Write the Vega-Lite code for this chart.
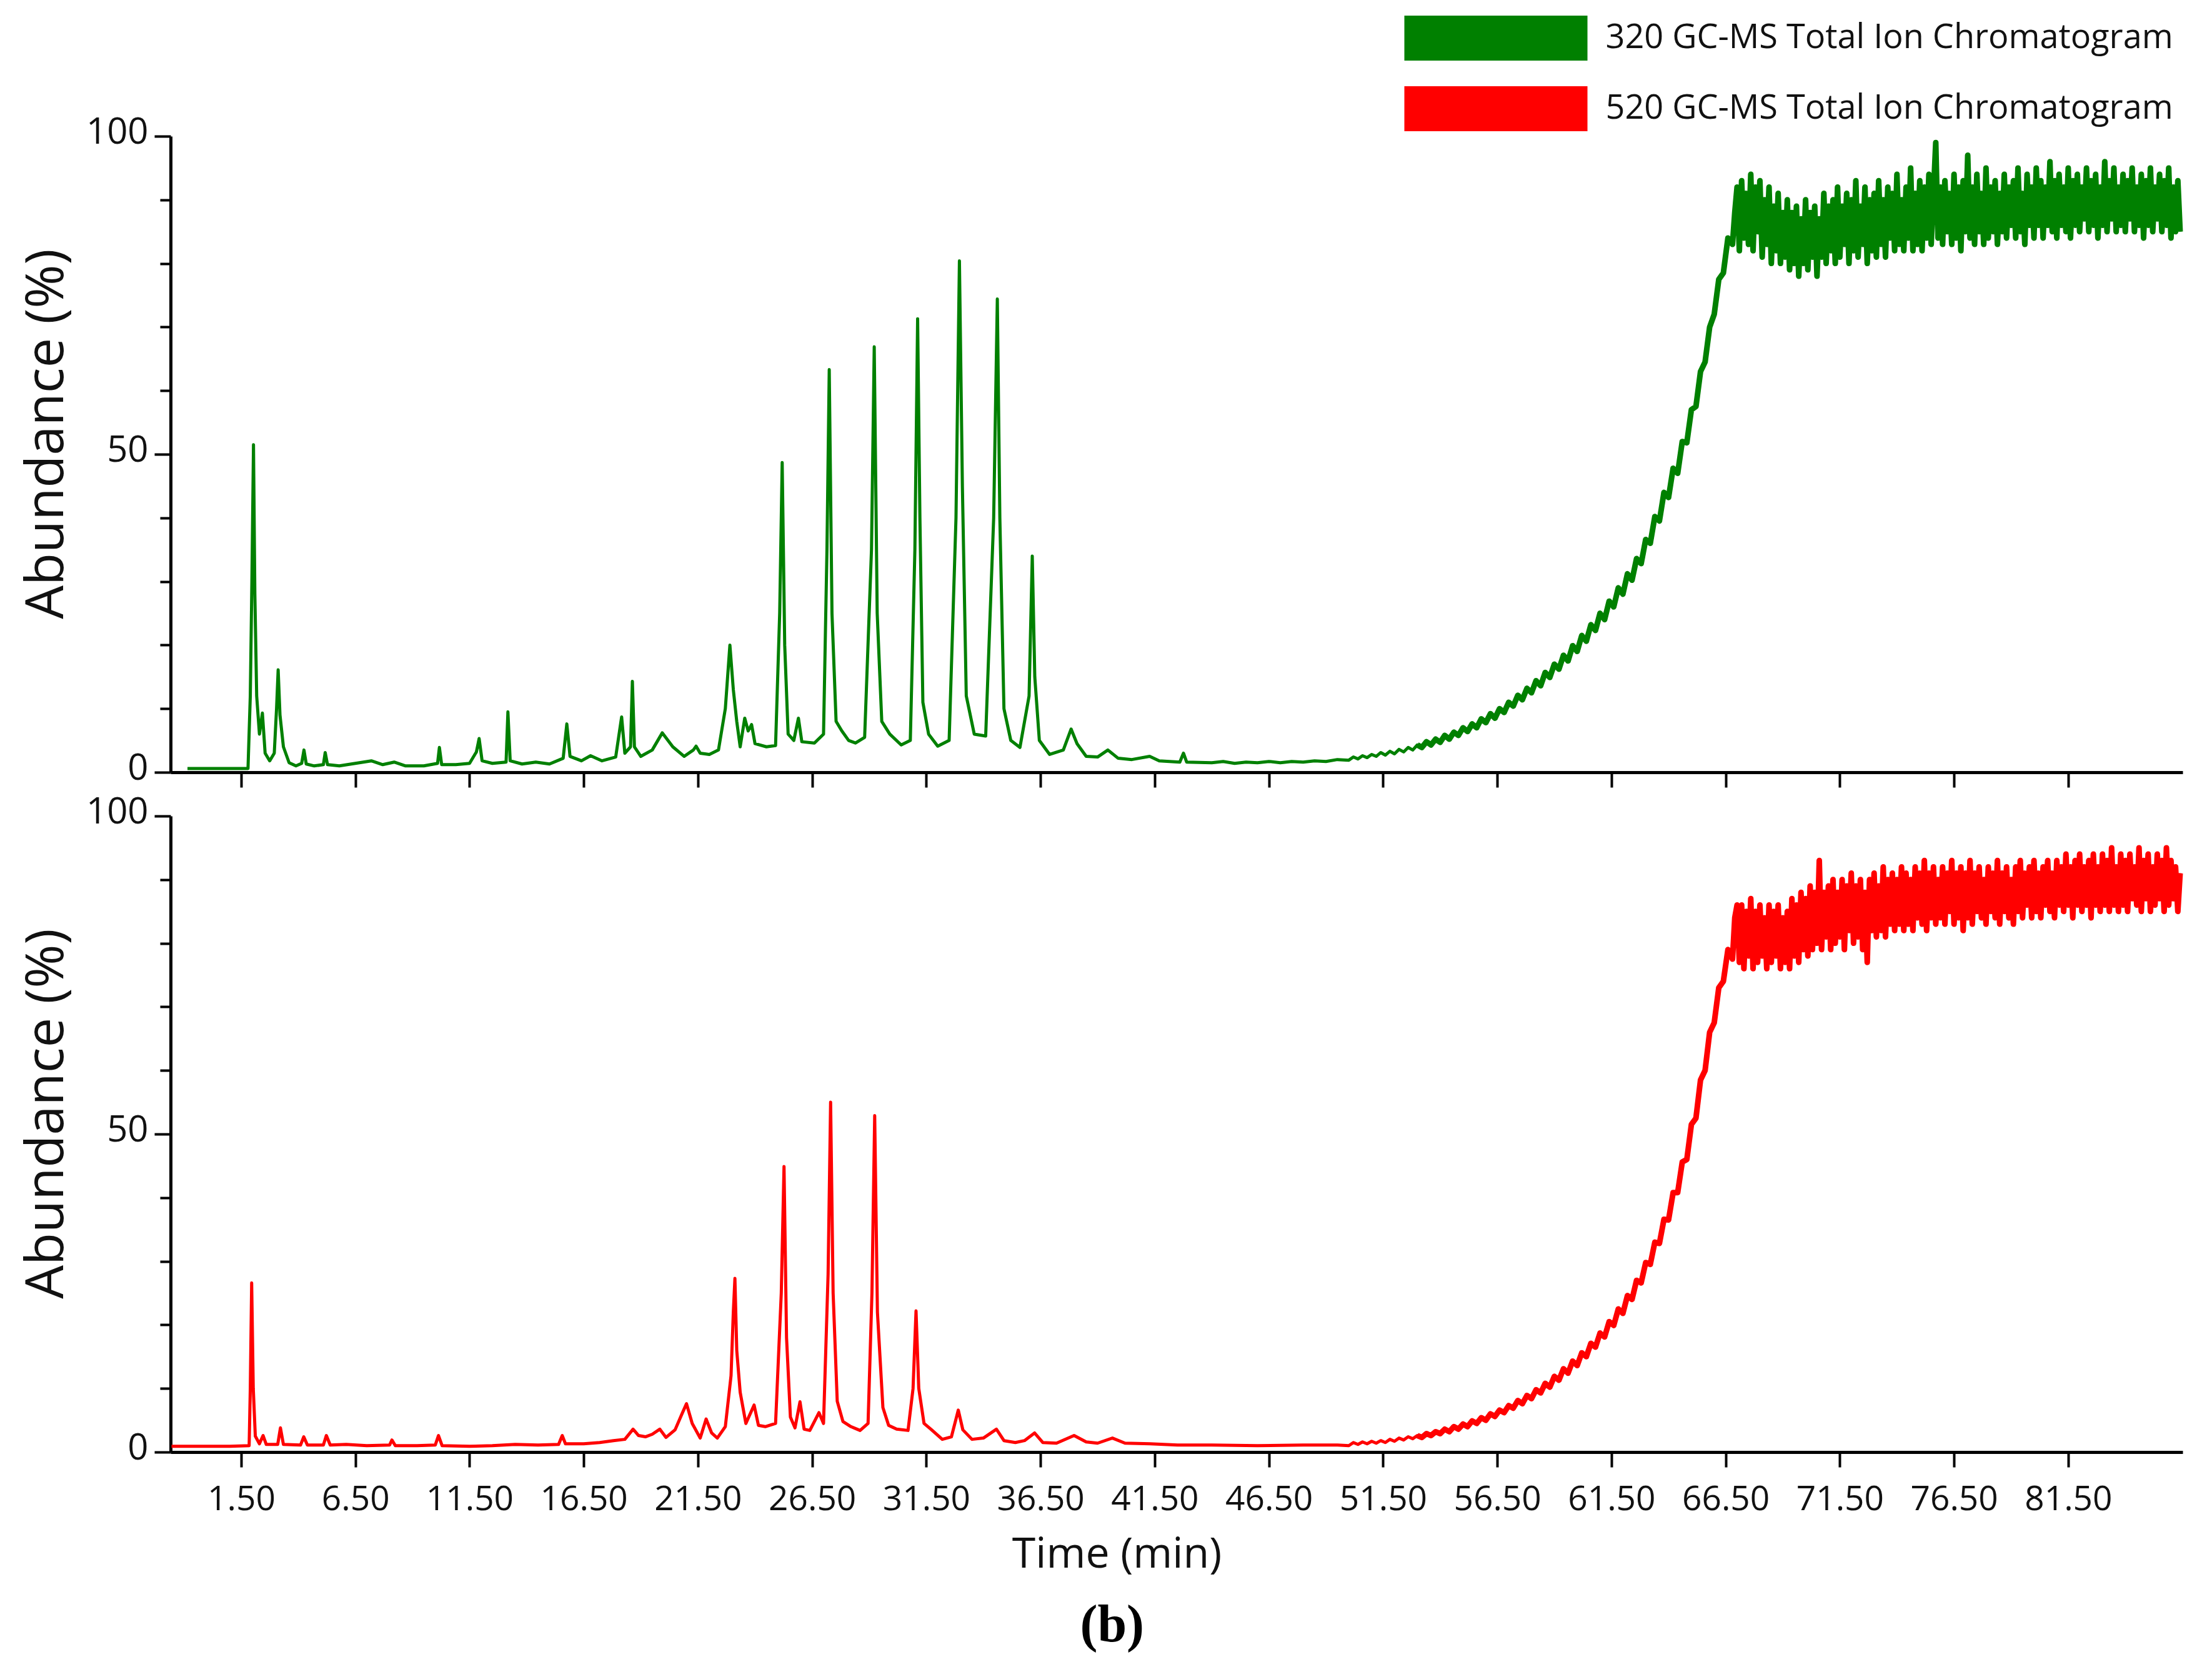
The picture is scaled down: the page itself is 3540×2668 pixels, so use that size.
{
  "$schema": "https://vega.github.io/schema/vega-lite/v6.json",
  "description": "320 vs 520 GC-MS total ion chromatograms, panel (b)",
  "autosize": {"type": "none"},
  "padding": {"left": 273, "top": 218, "right": 3267, "bottom": 2450},
  "background": "white",
  "bounds": "flush",
  "spacing": 70,
  "title": {
    "text": "(b)",
    "orient": "bottom",
    "anchor": "middle",
    "baseline": "alphabetic",
    "font": "Liberation Serif",
    "fontSize": 84,
    "fontWeight": "bold",
    "color": "#000",
    "dx": 17,
    "offset": 105
  },
  "datasets": {
    "g": [
      {"t": -0.85, "a": 0.6}, {"t": 0.5, "a": 0.6}, {"t": 1.8, "a": 0.6}, {"t": 1.9, "a": 12},
      {"t": 1.97, "a": 30}, {"t": 2.04, "a": 51.5}, {"t": 2.1, "a": 28}, {"t": 2.18, "a": 12},
      {"t": 2.3, "a": 6}, {"t": 2.43, "a": 9.3}, {"t": 2.55, "a": 3}, {"t": 2.75, "a": 1.8},
      {"t": 2.95, "a": 3}, {"t": 3.05, "a": 10}, {"t": 3.12, "a": 16.1}, {"t": 3.2, "a": 9},
      {"t": 3.35, "a": 4}, {"t": 3.6, "a": 1.5}, {"t": 3.9, "a": 1.0}, {"t": 4.15, "a": 1.4},
      {"t": 4.25, "a": 3.5}, {"t": 4.35, "a": 1.3}, {"t": 4.7, "a": 1.0}, {"t": 5.1, "a": 1.2},
      {"t": 5.18, "a": 3.1}, {"t": 5.28, "a": 1.2}, {"t": 5.8, "a": 1.0}, {"t": 6.5, "a": 1.4},
      {"t": 7.2, "a": 1.8}, {"t": 7.7, "a": 1.2}, {"t": 8.2, "a": 1.6}, {"t": 8.7, "a": 1.0},
      {"t": 9.5, "a": 1.0}, {"t": 10.1, "a": 1.4}, {"t": 10.18, "a": 3.9}, {"t": 10.28, "a": 1.2},
      {"t": 10.9, "a": 1.2}, {"t": 11.5, "a": 1.4}, {"t": 11.8, "a": 3.2}, {"t": 11.92, "a": 5.3},
      {"t": 12.05, "a": 1.8}, {"t": 12.5, "a": 1.4}, {"t": 13.1, "a": 1.6}, {"t": 13.18, "a": 9.5},
      {"t": 13.28, "a": 1.8}, {"t": 13.8, "a": 1.3}, {"t": 14.4, "a": 1.6}, {"t": 15.0, "a": 1.3},
      {"t": 15.6, "a": 2.2}, {"t": 15.76, "a": 7.6}, {"t": 15.9, "a": 2.5}, {"t": 16.4, "a": 1.8},
      {"t": 16.8, "a": 2.6}, {"t": 17.3, "a": 1.8}, {"t": 17.9, "a": 2.4}, {"t": 18.16, "a": 8.7},
      {"t": 18.3, "a": 3}, {"t": 18.55, "a": 4}, {"t": 18.63, "a": 14.3}, {"t": 18.72, "a": 4},
      {"t": 19.0, "a": 2.5}, {"t": 19.5, "a": 3.5}, {"t": 19.94, "a": 6.2}, {"t": 20.4, "a": 4},
      {"t": 20.9, "a": 2.5}, {"t": 21.3, "a": 3.5}, {"t": 21.42, "a": 4.1}, {"t": 21.6, "a": 3.0},
      {"t": 22.0, "a": 2.8}, {"t": 22.4, "a": 3.5}, {"t": 22.7, "a": 10}, {"t": 22.9, "a": 20},
      {"t": 23.05, "a": 13}, {"t": 23.2, "a": 8}, {"t": 23.35, "a": 4}, {"t": 23.55, "a": 8.5},
      {"t": 23.7, "a": 6.5}, {"t": 23.85, "a": 7.5}, {"t": 24.0, "a": 4.5}, {"t": 24.5, "a": 4.0},
      {"t": 24.9, "a": 4.2}, {"t": 25.08, "a": 25}, {"t": 25.19, "a": 48.7}, {"t": 25.3, "a": 20},
      {"t": 25.45, "a": 6}, {"t": 25.7, "a": 5}, {"t": 25.9, "a": 8.5}, {"t": 26.05, "a": 4.8},
      {"t": 26.6, "a": 4.6}, {"t": 27.0, "a": 6}, {"t": 27.15, "a": 35}, {"t": 27.25, "a": 63.3},
      {"t": 27.37, "a": 25}, {"t": 27.55, "a": 8}, {"t": 27.8, "a": 6.5}, {"t": 28.1, "a": 5},
      {"t": 28.4, "a": 4.6}, {"t": 28.8, "a": 5.5}, {"t": 29.1, "a": 35}, {"t": 29.22, "a": 66.9},
      {"t": 29.35, "a": 25}, {"t": 29.55, "a": 8}, {"t": 29.9, "a": 6}, {"t": 30.4, "a": 4.3},
      {"t": 30.8, "a": 5}, {"t": 31.0, "a": 35}, {"t": 31.12, "a": 71.3}, {"t": 31.22, "a": 40},
      {"t": 31.35, "a": 11}, {"t": 31.6, "a": 6}, {"t": 32.0, "a": 4.1}, {"t": 32.5, "a": 5},
      {"t": 32.8, "a": 40}, {"t": 32.95, "a": 80.4}, {"t": 33.08, "a": 45}, {"t": 33.25, "a": 12},
      {"t": 33.6, "a": 6}, {"t": 34.1, "a": 5.7}, {"t": 34.45, "a": 40}, {"t": 34.61, "a": 74.4},
      {"t": 34.72, "a": 40}, {"t": 34.9, "a": 10}, {"t": 35.2, "a": 5}, {"t": 35.6, "a": 3.9},
      {"t": 36.0, "a": 12}, {"t": 36.14, "a": 34}, {"t": 36.25, "a": 15}, {"t": 36.45, "a": 5},
      {"t": 36.9, "a": 2.8}, {"t": 37.5, "a": 3.5}, {"t": 37.84, "a": 6.8}, {"t": 38.1, "a": 4.5},
      {"t": 38.5, "a": 2.5}, {"t": 39.0, "a": 2.4}, {"t": 39.45, "a": 3.5}, {"t": 39.9, "a": 2.2},
      {"t": 40.5, "a": 2.0}, {"t": 41.28, "a": 2.5}, {"t": 41.7, "a": 1.8}, {"t": 42.6, "a": 1.6},
      {"t": 42.76, "a": 3}, {"t": 42.9, "a": 1.6}, {"t": 44.0, "a": 1.5}, {"t": 44.5, "a": 1.7},
      {"t": 45.0, "a": 1.4}, {"t": 45.5, "a": 1.6}, {"t": 46.0, "a": 1.5}, {"t": 46.5, "a": 1.7},
      {"t": 47.0, "a": 1.5}, {"t": 47.5, "a": 1.7}, {"t": 48.0, "a": 1.6}, {"t": 48.5, "a": 1.8},
      {"t": 49.0, "a": 1.7}, {"t": 49.5, "a": 2.0},
      {"t": 50.0, "a": 1.9}, {"t": 50.2, "a": 2.4}, {"t": 50.4, "a": 2.1}, {"t": 50.6, "a": 2.6},
      {"t": 50.8, "a": 2.3}, {"t": 51.0, "a": 2.8}, {"t": 51.2, "a": 2.5}, {"t": 51.4, "a": 3.1},
      {"t": 51.6, "a": 2.7}, {"t": 51.8, "a": 3.3}, {"t": 52.0, "a": 2.9}, {"t": 52.2, "a": 3.6},
      {"t": 52.4, "a": 3.2}, {"t": 52.6, "a": 3.9}, {"t": 52.8, "a": 3.5}, {"t": 53.0, "a": 4.3},
      {"t": 53.2, "a": 3.9}, {"t": 53.4, "a": 4.8}, {"t": 53.6, "a": 4.3}, {"t": 53.8, "a": 5.2},
      {"t": 54.0, "a": 4.7}, {"t": 54.2, "a": 5.8}, {"t": 54.4, "a": 5.2}, {"t": 54.6, "a": 6.3},
      {"t": 54.8, "a": 5.8}, {"t": 55.0, "a": 7.0}, {"t": 55.2, "a": 6.4}, {"t": 55.4, "a": 7.6},
      {"t": 55.6, "a": 7.0}, {"t": 55.8, "a": 8.4}, {"t": 56.0, "a": 7.8}, {"t": 56.2, "a": 9.2},
      {"t": 56.4, "a": 8.5}, {"t": 56.6, "a": 10.0}, {"t": 56.8, "a": 9.4}, {"t": 57.0, "a": 11.0},
      {"t": 57.2, "a": 10.4}, {"t": 57.4, "a": 12.1}, {"t": 57.6, "a": 11.4}, {"t": 57.8, "a": 13.2},
      {"t": 58.0, "a": 12.5}, {"t": 58.2, "a": 14.4}, {"t": 58.4, "a": 13.6}, {"t": 58.6, "a": 15.7},
      {"t": 58.8, "a": 14.9}, {"t": 59.0, "a": 17.0}, {"t": 59.2, "a": 16.2}, {"t": 59.4, "a": 18.4},
      {"t": 59.6, "a": 17.5}, {"t": 59.8, "a": 19.9}, {"t": 60.0, "a": 19.0}, {"t": 60.2, "a": 21.5},
      {"t": 60.4, "a": 20.6}, {"t": 60.6, "a": 23.2}, {"t": 60.8, "a": 22.3}, {"t": 61.0, "a": 25.0},
      {"t": 61.2, "a": 24.0}, {"t": 61.4, "a": 26.9}, {"t": 61.6, "a": 26.0}, {"t": 61.8, "a": 29.0},
      {"t": 62.0, "a": 28.0}, {"t": 62.2, "a": 31.2}, {"t": 62.4, "a": 30.2}, {"t": 62.6, "a": 33.6},
      {"t": 62.8, "a": 32.8}, {"t": 63.0, "a": 36.6}, {"t": 63.2, "a": 36.0}, {"t": 63.4, "a": 40.2},
      {"t": 63.6, "a": 39.5}, {"t": 63.8, "a": 44.0}, {"t": 64.0, "a": 43.2}, {"t": 64.2, "a": 47.8},
      {"t": 64.4, "a": 47.0}, {"t": 64.6, "a": 52.0}, {"t": 64.8, "a": 51.8}, {"t": 65.0, "a": 57.0},
      {"t": 65.2, "a": 57.5}, {"t": 65.4, "a": 63.0}, {"t": 65.6, "a": 64.5}, {"t": 65.8, "a": 70.0},
      {"t": 66.0, "a": 72.0}, {"t": 66.2, "a": 77.5}, {"t": 66.4, "a": 78.5}, {"t": 66.6, "a": 84.0},
      {"t": 66.8, "a": 83.0}, {"t": 66.9, "a": 88},
      {"t": 67.0, "a": 92}, {"t": 67.1, "a": 82}, {"t": 67.2, "a": 93}, {"t": 67.3, "a": 84},
      {"t": 67.4, "a": 91}, {"t": 67.5, "a": 83}, {"t": 67.6, "a": 94}, {"t": 67.7, "a": 82},
      {"t": 67.8, "a": 92}, {"t": 67.9, "a": 85}, {"t": 68.0, "a": 93}, {"t": 68.1, "a": 81},
      {"t": 68.2, "a": 90}, {"t": 68.3, "a": 83}, {"t": 68.4, "a": 92}, {"t": 68.5, "a": 80},
      {"t": 68.6, "a": 89}, {"t": 68.7, "a": 82}, {"t": 68.8, "a": 91}, {"t": 68.9, "a": 80},
      {"t": 69.0, "a": 88}, {"t": 69.1, "a": 81}, {"t": 69.2, "a": 90}, {"t": 69.3, "a": 79},
      {"t": 69.4, "a": 88}, {"t": 69.5, "a": 80}, {"t": 69.6, "a": 89}, {"t": 69.7, "a": 78},
      {"t": 69.8, "a": 87}, {"t": 69.9, "a": 80}, {"t": 70.0, "a": 90}, {"t": 70.1, "a": 79},
      {"t": 70.2, "a": 88}, {"t": 70.3, "a": 81}, {"t": 70.4, "a": 89}, {"t": 70.5, "a": 78},
      {"t": 70.6, "a": 87}, {"t": 70.7, "a": 81}, {"t": 70.8, "a": 91}, {"t": 70.9, "a": 80},
      {"t": 71.0, "a": 89}, {"t": 71.1, "a": 82}, {"t": 71.2, "a": 90}, {"t": 71.3, "a": 80},
      {"t": 71.4, "a": 92}, {"t": 71.5, "a": 81}, {"t": 71.6, "a": 89}, {"t": 71.7, "a": 83},
      {"t": 71.8, "a": 91}, {"t": 71.9, "a": 80}, {"t": 72.0, "a": 90}, {"t": 72.1, "a": 82},
      {"t": 72.2, "a": 93}, {"t": 72.3, "a": 81}, {"t": 72.4, "a": 89}, {"t": 72.5, "a": 83},
      {"t": 72.6, "a": 92}, {"t": 72.7, "a": 80}, {"t": 72.8, "a": 90}, {"t": 72.9, "a": 82},
      {"t": 73.0, "a": 91}, {"t": 73.1, "a": 81}, {"t": 73.2, "a": 93}, {"t": 73.3, "a": 83},
      {"t": 73.4, "a": 90}, {"t": 73.5, "a": 81}, {"t": 73.6, "a": 92}, {"t": 73.7, "a": 84},
      {"t": 73.8, "a": 91}, {"t": 73.9, "a": 82}, {"t": 74.0, "a": 94}, {"t": 74.1, "a": 83},
      {"t": 74.2, "a": 90}, {"t": 74.3, "a": 82}, {"t": 74.4, "a": 92}, {"t": 74.5, "a": 84},
      {"t": 74.6, "a": 95}, {"t": 74.7, "a": 82}, {"t": 74.8, "a": 91}, {"t": 74.9, "a": 83},
      {"t": 75.0, "a": 93}, {"t": 75.1, "a": 82}, {"t": 75.2, "a": 92}, {"t": 75.3, "a": 84},
      {"t": 75.4, "a": 94}, {"t": 75.5, "a": 83}, {"t": 75.6, "a": 91}, {"t": 75.7, "a": 99},
      {"t": 75.8, "a": 84}, {"t": 75.9, "a": 92}, {"t": 76.0, "a": 83}, {"t": 76.1, "a": 93},
      {"t": 76.2, "a": 85}, {"t": 76.3, "a": 91}, {"t": 76.4, "a": 83}, {"t": 76.5, "a": 94},
      {"t": 76.6, "a": 84}, {"t": 76.7, "a": 92}, {"t": 76.8, "a": 82}, {"t": 76.9, "a": 93},
      {"t": 77.0, "a": 85}, {"t": 77.1, "a": 97}, {"t": 77.2, "a": 84}, {"t": 77.3, "a": 92},
      {"t": 77.4, "a": 83}, {"t": 77.5, "a": 94}, {"t": 77.6, "a": 85}, {"t": 77.7, "a": 91},
      {"t": 77.8, "a": 83}, {"t": 77.9, "a": 95}, {"t": 78.0, "a": 84}, {"t": 78.1, "a": 92},
      {"t": 78.2, "a": 85}, {"t": 78.3, "a": 93}, {"t": 78.4, "a": 83}, {"t": 78.5, "a": 91},
      {"t": 78.6, "a": 85}, {"t": 78.7, "a": 94}, {"t": 78.8, "a": 84}, {"t": 78.9, "a": 92},
      {"t": 79.0, "a": 86}, {"t": 79.1, "a": 93}, {"t": 79.2, "a": 84}, {"t": 79.3, "a": 95},
      {"t": 79.4, "a": 85}, {"t": 79.5, "a": 91}, {"t": 79.6, "a": 83}, {"t": 79.7, "a": 94},
      {"t": 79.8, "a": 86}, {"t": 79.9, "a": 92}, {"t": 80.0, "a": 84}, {"t": 80.1, "a": 95},
      {"t": 80.2, "a": 86}, {"t": 80.3, "a": 93}, {"t": 80.4, "a": 84}, {"t": 80.5, "a": 92},
      {"t": 80.6, "a": 86}, {"t": 80.7, "a": 96}, {"t": 80.8, "a": 85}, {"t": 80.9, "a": 93},
      {"t": 81.0, "a": 84}, {"t": 81.1, "a": 94}, {"t": 81.2, "a": 86}, {"t": 81.3, "a": 92},
      {"t": 81.4, "a": 85}, {"t": 81.5, "a": 95}, {"t": 81.6, "a": 84}, {"t": 81.7, "a": 93},
      {"t": 81.8, "a": 86}, {"t": 81.9, "a": 94}, {"t": 82.0, "a": 85}, {"t": 82.1, "a": 92},
      {"t": 82.2, "a": 87}, {"t": 82.3, "a": 95}, {"t": 82.4, "a": 85}, {"t": 82.5, "a": 93},
      {"t": 82.6, "a": 86}, {"t": 82.7, "a": 94}, {"t": 82.8, "a": 84}, {"t": 82.9, "a": 92},
      {"t": 83.0, "a": 86}, {"t": 83.1, "a": 96}, {"t": 83.2, "a": 85}, {"t": 83.3, "a": 93},
      {"t": 83.4, "a": 87}, {"t": 83.5, "a": 95}, {"t": 83.6, "a": 85}, {"t": 83.7, "a": 92},
      {"t": 83.8, "a": 86}, {"t": 83.9, "a": 94}, {"t": 84.0, "a": 85}, {"t": 84.1, "a": 93},
      {"t": 84.2, "a": 87}, {"t": 84.3, "a": 95}, {"t": 84.4, "a": 85}, {"t": 84.5, "a": 92},
      {"t": 84.6, "a": 86}, {"t": 84.7, "a": 94}, {"t": 84.8, "a": 84}, {"t": 84.9, "a": 93},
      {"t": 85.0, "a": 86}, {"t": 85.1, "a": 95}, {"t": 85.2, "a": 85}, {"t": 85.3, "a": 92},
      {"t": 85.4, "a": 87}, {"t": 85.5, "a": 94}, {"t": 85.6, "a": 85}, {"t": 85.7, "a": 93},
      {"t": 85.8, "a": 86}, {"t": 85.9, "a": 95}, {"t": 86.0, "a": 84}, {"t": 86.1, "a": 92},
      {"t": 86.2, "a": 85}, {"t": 86.3, "a": 93}, {"t": 86.4, "a": 85}
    ],
    "r": [
      {"t": -1.55, "a": 0.9}, {"t": 0.0, "a": 0.9}, {"t": 1.0, "a": 0.9}, {"t": 1.85, "a": 1.0},
      {"t": 1.9, "a": 10}, {"t": 1.96, "a": 26.6}, {"t": 2.03, "a": 10}, {"t": 2.12, "a": 2.5},
      {"t": 2.3, "a": 1.3}, {"t": 2.46, "a": 2.6}, {"t": 2.6, "a": 1.2}, {"t": 3.1, "a": 1.2},
      {"t": 3.22, "a": 3.8}, {"t": 3.35, "a": 1.2}, {"t": 4.1, "a": 1.1}, {"t": 4.24, "a": 2.4},
      {"t": 4.4, "a": 1.1}, {"t": 5.1, "a": 1.1}, {"t": 5.23, "a": 2.6}, {"t": 5.4, "a": 1.1},
      {"t": 6.1, "a": 1.2}, {"t": 7.0, "a": 1.0}, {"t": 8.0, "a": 1.1}, {"t": 8.1, "a": 1.9},
      {"t": 8.25, "a": 1.0}, {"t": 9.2, "a": 1.0}, {"t": 10.0, "a": 1.1}, {"t": 10.14, "a": 2.6},
      {"t": 10.3, "a": 1.0}, {"t": 11.5, "a": 0.9}, {"t": 12.5, "a": 1.0}, {"t": 13.5, "a": 1.2},
      {"t": 14.5, "a": 1.1}, {"t": 15.4, "a": 1.2}, {"t": 15.56, "a": 2.6}, {"t": 15.7, "a": 1.3},
      {"t": 16.5, "a": 1.3}, {"t": 17.2, "a": 1.5}, {"t": 17.8, "a": 1.8}, {"t": 18.3, "a": 2.0},
      {"t": 18.66, "a": 3.6}, {"t": 18.9, "a": 2.6}, {"t": 19.2, "a": 2.4}, {"t": 19.5, "a": 2.8},
      {"t": 19.83, "a": 3.6}, {"t": 20.1, "a": 2.3}, {"t": 20.5, "a": 3.5}, {"t": 20.8, "a": 6.0},
      {"t": 21.0, "a": 7.6}, {"t": 21.25, "a": 4.5}, {"t": 21.6, "a": 2.2}, {"t": 21.86, "a": 5.2},
      {"t": 22.1, "a": 3.0}, {"t": 22.35, "a": 2.2}, {"t": 22.7, "a": 4.0}, {"t": 22.95, "a": 12},
      {"t": 23.05, "a": 22}, {"t": 23.12, "a": 27.3}, {"t": 23.2, "a": 16}, {"t": 23.35, "a": 9.4},
      {"t": 23.6, "a": 4.5}, {"t": 23.96, "a": 7.4}, {"t": 24.15, "a": 4.2}, {"t": 24.45, "a": 4.0},
      {"t": 24.9, "a": 4.5}, {"t": 25.15, "a": 25}, {"t": 25.27, "a": 44.9}, {"t": 25.38, "a": 18},
      {"t": 25.55, "a": 5.5}, {"t": 25.75, "a": 3.8}, {"t": 25.97, "a": 7.9}, {"t": 26.15, "a": 3.6},
      {"t": 26.4, "a": 3.4}, {"t": 26.8, "a": 6.2}, {"t": 27.0, "a": 4.5}, {"t": 27.2, "a": 28},
      {"t": 27.31, "a": 55}, {"t": 27.42, "a": 25}, {"t": 27.6, "a": 8}, {"t": 27.85, "a": 4.8},
      {"t": 28.2, "a": 4.0}, {"t": 28.6, "a": 3.4}, {"t": 28.95, "a": 4.5}, {"t": 29.12, "a": 25},
      {"t": 29.24, "a": 52.9}, {"t": 29.36, "a": 22}, {"t": 29.6, "a": 7.0}, {"t": 29.85, "a": 4.2},
      {"t": 30.2, "a": 3.6}, {"t": 30.7, "a": 3.4}, {"t": 30.92, "a": 10}, {"t": 31.05, "a": 22.2},
      {"t": 31.17, "a": 10}, {"t": 31.4, "a": 4.5}, {"t": 31.7, "a": 3.6}, {"t": 32.2, "a": 2.0},
      {"t": 32.6, "a": 2.4}, {"t": 32.9, "a": 6.6}, {"t": 33.1, "a": 3.5}, {"t": 33.5, "a": 2.0},
      {"t": 34.0, "a": 2.2}, {"t": 34.57, "a": 3.6}, {"t": 34.9, "a": 1.8}, {"t": 35.4, "a": 1.5},
      {"t": 35.8, "a": 1.8}, {"t": 36.24, "a": 3.0}, {"t": 36.6, "a": 1.5}, {"t": 37.2, "a": 1.4},
      {"t": 37.97, "a": 2.6}, {"t": 38.5, "a": 1.6}, {"t": 39.0, "a": 1.4}, {"t": 39.65, "a": 2.2},
      {"t": 40.2, "a": 1.4}, {"t": 41.3, "a": 1.3}, {"t": 42.5, "a": 1.1}, {"t": 44.0, "a": 1.1},
      {"t": 46.0, "a": 1.0}, {"t": 48.0, "a": 1.1}, {"t": 49.5, "a": 1.1},
      {"t": 50.0, "a": 1.0}, {"t": 50.2, "a": 1.5}, {"t": 50.4, "a": 1.2}, {"t": 50.6, "a": 1.6},
      {"t": 50.8, "a": 1.3}, {"t": 51.0, "a": 1.7}, {"t": 51.2, "a": 1.4}, {"t": 51.4, "a": 1.8},
      {"t": 51.6, "a": 1.5}, {"t": 51.8, "a": 2.0}, {"t": 52.0, "a": 1.7}, {"t": 52.2, "a": 2.2},
      {"t": 52.4, "a": 1.9}, {"t": 52.6, "a": 2.4}, {"t": 52.8, "a": 2.1}, {"t": 53.0, "a": 2.6},
      {"t": 53.2, "a": 2.3}, {"t": 53.4, "a": 2.9}, {"t": 53.6, "a": 2.6}, {"t": 53.8, "a": 3.2},
      {"t": 54.0, "a": 2.9}, {"t": 54.2, "a": 3.6}, {"t": 54.4, "a": 3.2}, {"t": 54.6, "a": 4.0},
      {"t": 54.8, "a": 3.6}, {"t": 55.0, "a": 4.4}, {"t": 55.2, "a": 4.0}, {"t": 55.4, "a": 4.9},
      {"t": 55.6, "a": 4.5}, {"t": 55.8, "a": 5.4}, {"t": 56.0, "a": 5.0}, {"t": 56.2, "a": 6.0},
      {"t": 56.4, "a": 5.6}, {"t": 56.6, "a": 6.6}, {"t": 56.8, "a": 6.2}, {"t": 57.0, "a": 7.3},
      {"t": 57.2, "a": 6.9}, {"t": 57.4, "a": 8.1}, {"t": 57.6, "a": 7.6}, {"t": 57.8, "a": 8.9},
      {"t": 58.0, "a": 8.4}, {"t": 58.2, "a": 9.8}, {"t": 58.4, "a": 9.3}, {"t": 58.6, "a": 10.8},
      {"t": 58.8, "a": 10.2}, {"t": 59.0, "a": 11.9}, {"t": 59.2, "a": 11.3}, {"t": 59.4, "a": 13.1},
      {"t": 59.6, "a": 12.4}, {"t": 59.8, "a": 14.3}, {"t": 60.0, "a": 13.6}, {"t": 60.2, "a": 15.6},
      {"t": 60.4, "a": 15.0}, {"t": 60.6, "a": 17.1}, {"t": 60.8, "a": 16.5}, {"t": 61.0, "a": 18.7},
      {"t": 61.2, "a": 18.1}, {"t": 61.4, "a": 20.5}, {"t": 61.6, "a": 19.9}, {"t": 61.8, "a": 22.5},
      {"t": 62.0, "a": 21.8}, {"t": 62.2, "a": 24.6}, {"t": 62.4, "a": 24.0}, {"t": 62.6, "a": 27.0},
      {"t": 62.8, "a": 26.6}, {"t": 63.0, "a": 29.8}, {"t": 63.2, "a": 29.5}, {"t": 63.4, "a": 33.0},
      {"t": 63.6, "a": 32.8}, {"t": 63.8, "a": 36.6}, {"t": 64.0, "a": 36.5}, {"t": 64.2, "a": 40.8},
      {"t": 64.4, "a": 40.8}, {"t": 64.6, "a": 45.6}, {"t": 64.8, "a": 46.0}, {"t": 65.0, "a": 51.5},
      {"t": 65.2, "a": 52.5}, {"t": 65.4, "a": 58.5}, {"t": 65.6, "a": 60.0}, {"t": 65.8, "a": 66.0},
      {"t": 66.0, "a": 67.5}, {"t": 66.2, "a": 73.0}, {"t": 66.4, "a": 74.0}, {"t": 66.6, "a": 79.0},
      {"t": 66.8, "a": 77.5}, {"t": 66.9, "a": 84},
      {"t": 67.0, "a": 86}, {"t": 67.1, "a": 77}, {"t": 67.2, "a": 86}, {"t": 67.3, "a": 76},
      {"t": 67.4, "a": 85}, {"t": 67.5, "a": 78}, {"t": 67.6, "a": 87}, {"t": 67.7, "a": 76},
      {"t": 67.8, "a": 85}, {"t": 67.9, "a": 77}, {"t": 68.0, "a": 86}, {"t": 68.1, "a": 78},
      {"t": 68.2, "a": 84}, {"t": 68.3, "a": 76}, {"t": 68.4, "a": 86}, {"t": 68.5, "a": 77},
      {"t": 68.6, "a": 85}, {"t": 68.7, "a": 78}, {"t": 68.8, "a": 86}, {"t": 68.9, "a": 76},
      {"t": 69.0, "a": 84}, {"t": 69.1, "a": 77}, {"t": 69.2, "a": 85}, {"t": 69.3, "a": 76},
      {"t": 69.4, "a": 87}, {"t": 69.5, "a": 78}, {"t": 69.6, "a": 86}, {"t": 69.7, "a": 77},
      {"t": 69.8, "a": 88}, {"t": 69.9, "a": 79}, {"t": 70.0, "a": 87}, {"t": 70.1, "a": 78},
      {"t": 70.2, "a": 89}, {"t": 70.3, "a": 79}, {"t": 70.4, "a": 88}, {"t": 70.5, "a": 80},
      {"t": 70.6, "a": 93}, {"t": 70.7, "a": 79}, {"t": 70.8, "a": 88}, {"t": 70.9, "a": 81},
      {"t": 71.0, "a": 89}, {"t": 71.1, "a": 79}, {"t": 71.2, "a": 90}, {"t": 71.3, "a": 80},
      {"t": 71.4, "a": 88}, {"t": 71.5, "a": 81}, {"t": 71.6, "a": 90}, {"t": 71.7, "a": 79},
      {"t": 71.8, "a": 89}, {"t": 71.9, "a": 82}, {"t": 72.0, "a": 91}, {"t": 72.1, "a": 80},
      {"t": 72.2, "a": 89}, {"t": 72.3, "a": 81}, {"t": 72.4, "a": 90}, {"t": 72.5, "a": 79},
      {"t": 72.6, "a": 88}, {"t": 72.7, "a": 77}, {"t": 72.8, "a": 90}, {"t": 72.9, "a": 82},
      {"t": 73.0, "a": 91}, {"t": 73.1, "a": 81}, {"t": 73.2, "a": 89}, {"t": 73.3, "a": 82},
      {"t": 73.4, "a": 92}, {"t": 73.5, "a": 81}, {"t": 73.6, "a": 90}, {"t": 73.7, "a": 83},
      {"t": 73.8, "a": 91}, {"t": 73.9, "a": 82}, {"t": 74.0, "a": 90}, {"t": 74.1, "a": 83},
      {"t": 74.2, "a": 92}, {"t": 74.3, "a": 82}, {"t": 74.4, "a": 91}, {"t": 74.5, "a": 83},
      {"t": 74.6, "a": 90}, {"t": 74.7, "a": 82}, {"t": 74.8, "a": 92}, {"t": 74.9, "a": 84},
      {"t": 75.0, "a": 91}, {"t": 75.1, "a": 83}, {"t": 75.2, "a": 93}, {"t": 75.3, "a": 82},
      {"t": 75.4, "a": 91}, {"t": 75.5, "a": 84}, {"t": 75.6, "a": 92}, {"t": 75.7, "a": 83},
      {"t": 75.8, "a": 90}, {"t": 75.9, "a": 84}, {"t": 76.0, "a": 92}, {"t": 76.1, "a": 83},
      {"t": 76.2, "a": 91}, {"t": 76.3, "a": 85}, {"t": 76.4, "a": 93}, {"t": 76.5, "a": 83},
      {"t": 76.6, "a": 91}, {"t": 76.7, "a": 84}, {"t": 76.8, "a": 92}, {"t": 76.9, "a": 82},
      {"t": 77.0, "a": 91}, {"t": 77.1, "a": 84}, {"t": 77.2, "a": 93}, {"t": 77.3, "a": 83},
      {"t": 77.4, "a": 91}, {"t": 77.5, "a": 85}, {"t": 77.6, "a": 92}, {"t": 77.7, "a": 84},
      {"t": 77.8, "a": 90}, {"t": 77.9, "a": 83}, {"t": 78.0, "a": 92}, {"t": 78.1, "a": 85},
      {"t": 78.2, "a": 91}, {"t": 78.3, "a": 84}, {"t": 78.4, "a": 93}, {"t": 78.5, "a": 83},
      {"t": 78.6, "a": 91}, {"t": 78.7, "a": 85}, {"t": 78.8, "a": 92}, {"t": 78.9, "a": 84},
      {"t": 79.0, "a": 90}, {"t": 79.1, "a": 83}, {"t": 79.2, "a": 92}, {"t": 79.3, "a": 85},
      {"t": 79.4, "a": 93}, {"t": 79.5, "a": 84}, {"t": 79.6, "a": 91}, {"t": 79.7, "a": 86},
      {"t": 79.8, "a": 92}, {"t": 79.9, "a": 84}, {"t": 80.0, "a": 93}, {"t": 80.1, "a": 85},
      {"t": 80.2, "a": 91}, {"t": 80.3, "a": 84}, {"t": 80.4, "a": 92}, {"t": 80.5, "a": 86},
      {"t": 80.6, "a": 93}, {"t": 80.7, "a": 85}, {"t": 80.8, "a": 91}, {"t": 80.9, "a": 84},
      {"t": 81.0, "a": 93}, {"t": 81.1, "a": 86}, {"t": 81.2, "a": 92}, {"t": 81.3, "a": 85},
      {"t": 81.4, "a": 94}, {"t": 81.5, "a": 86}, {"t": 81.6, "a": 92}, {"t": 81.7, "a": 84},
      {"t": 81.8, "a": 93}, {"t": 81.9, "a": 86}, {"t": 82.0, "a": 94}, {"t": 82.1, "a": 85},
      {"t": 82.2, "a": 92}, {"t": 82.3, "a": 86}, {"t": 82.4, "a": 93}, {"t": 82.5, "a": 84},
      {"t": 82.6, "a": 94}, {"t": 82.7, "a": 86}, {"t": 82.8, "a": 92}, {"t": 82.9, "a": 85},
      {"t": 83.0, "a": 94}, {"t": 83.1, "a": 86}, {"t": 83.2, "a": 93}, {"t": 83.3, "a": 85},
      {"t": 83.4, "a": 95}, {"t": 83.5, "a": 86}, {"t": 83.6, "a": 92}, {"t": 83.7, "a": 85},
      {"t": 83.8, "a": 94}, {"t": 83.9, "a": 86}, {"t": 84.0, "a": 93}, {"t": 84.1, "a": 85},
      {"t": 84.2, "a": 94}, {"t": 84.3, "a": 87}, {"t": 84.4, "a": 92}, {"t": 84.5, "a": 86},
      {"t": 84.6, "a": 95}, {"t": 84.7, "a": 85}, {"t": 84.8, "a": 93}, {"t": 84.9, "a": 87},
      {"t": 85.0, "a": 94}, {"t": 85.1, "a": 85}, {"t": 85.2, "a": 92}, {"t": 85.3, "a": 86},
      {"t": 85.4, "a": 94}, {"t": 85.5, "a": 87}, {"t": 85.6, "a": 93}, {"t": 85.7, "a": 85},
      {"t": 85.8, "a": 95}, {"t": 85.9, "a": 86}, {"t": 86.0, "a": 93}, {"t": 86.1, "a": 87},
      {"t": 86.2, "a": 92}, {"t": 86.3, "a": 85}, {"t": 86.4, "a": 91}
    ]
  },
  "config": {
    "font": "Open Sans",
    "view": {"stroke": null},
    "axis": {
      "grid": false,
      "domainColor": "#000",
      "domainWidth": 5,
      "tickColor": "#000",
      "tickWidth": 4,
      "labelColor": "#111",
      "titleColor": "#111",
      "labelFont": "Open Sans",
      "titleFont": "Open Sans",
      "titleFontWeight": "normal"
    },
    "legend": {
      "orient": "none",
      "legendX": 2085,
      "legendY": -193,
      "direction": "vertical",
      "padding": 0,
      "symbolType": "M-4.07,-1H4.07V1H-4.07Z",
      "symbolSize": 5184,
      "symbolStrokeWidth": 0,
      "symbolOpacity": 1,
      "labelFont": "Open Sans",
      "labelFontSize": 54,
      "labelColor": "#111",
      "labelOffset": 139.5,
      "labelLimit": 1500,
      "rowPadding": 41
    }
  },
  "resolve": {"scale": {"color": "shared"}, "legend": {"color": "shared"}},
  "vconcat": [
    {
      "width": 3220,
      "height": 1018,
      "data": {"name": "g"},
      "encoding": {
        "x": {
          "field": "t",
          "type": "quantitative",
          "scale": {"domain": [-1.59, 86.51], "nice": false, "zero": false},
          "axis": {
            "values": [1.5, 6.5, 11.5, 16.5, 21.5, 26.5, 31.5, 36.5, 41.5, 46.5, 51.5, 56.5, 61.5, 66.5, 71.5, 76.5, 81.5],
            "labels": false,
            "tickSize": 24,
            "title": null
          }
        },
        "y": {
          "field": "a",
          "type": "quantitative",
          "scale": {"domain": [0, 100], "nice": false},
          "axis": {
            "values": [0, 10, 20, 30, 40, 50, 60, 70, 80, 90, 100],
            "labelExpr": "datum.value % 50 === 0 ? datum.label : ''",
            "tickSize": {"condition": {"test": "datum.value % 50 === 0", "value": 26}, "value": 17},
            "labelFontSize": 58,
            "labelPadding": 10,
            "labelBaseline": "alphabetic",
            "labelOffset": 11,
            "title": "Abundance (%)",
            "titleFontSize": 85,
            "titleX": -173,
            "titleY": 476,
            "titleAlign": "center",
            "titleBaseline": "alphabetic",
            "titleAngle": 270
          }
        },
        "color": {
          "datum": "320 GC-MS Total Ion Chromatogram",
          "type": "nominal",
          "scale": {
            "domain": ["320 GC-MS Total Ion Chromatogram", "520 GC-MS Total Ion Chromatogram"],
            "range": ["#008000", "#ff0000"]
          },
          "legend": {
            "title": null,
            "encode": {
              "symbols": {"update": {"fill": {"scale": "color", "field": "value"}, "stroke": {"value": "transparent"}}}
            }
          }
        }
      },
      "layer": [
        {"mark": {"type": "line", "strokeWidth": 5, "strokeJoin": "round"}},
        {
          "transform": [{"filter": "datum.t >= 53"}],
          "mark": {"type": "line", "strokeWidth": 9, "strokeJoin": "round"}
        }
      ]
    },
    {
      "width": 3220,
      "height": 1018,
      "data": {"name": "r"},
      "encoding": {
        "x": {
          "field": "t",
          "type": "quantitative",
          "scale": {"domain": [-1.59, 86.51], "nice": false, "zero": false},
          "axis": {
            "values": [1.5, 6.5, 11.5, 16.5, 21.5, 26.5, 31.5, 36.5, 41.5, 46.5, 51.5, 56.5, 61.5, 66.5, 71.5, 76.5, 81.5],
            "format": ".2f",
            "tickSize": 24,
            "labelFontSize": 55,
            "labelBaseline": "alphabetic",
            "labelPadding": 68,
            "labelFlush": false,
            "labelOverlap": false,
            "title": "Time (min)",
            "titleFontSize": 68,
            "titleX": 1514,
            "titleY": 184,
            "titleAlign": "center",
            "titleBaseline": "alphabetic"
          }
        },
        "y": {
          "field": "a",
          "type": "quantitative",
          "scale": {"domain": [0, 100], "nice": false},
          "axis": {
            "values": [0, 10, 20, 30, 40, 50, 60, 70, 80, 90, 100],
            "labelExpr": "datum.value % 50 === 0 ? datum.label : ''",
            "tickSize": {"condition": {"test": "datum.value % 50 === 0", "value": 26}, "value": 17},
            "labelFontSize": 58,
            "labelPadding": 10,
            "labelBaseline": "alphabetic",
            "labelOffset": 11,
            "title": "Abundance (%)",
            "titleFontSize": 85,
            "titleX": -173,
            "titleY": 476,
            "titleAlign": "center",
            "titleBaseline": "alphabetic",
            "titleAngle": 270
          }
        },
        "color": {
          "datum": "520 GC-MS Total Ion Chromatogram",
          "type": "nominal",
          "scale": {
            "domain": ["320 GC-MS Total Ion Chromatogram", "520 GC-MS Total Ion Chromatogram"],
            "range": ["#008000", "#ff0000"]
          },
          "legend": {
            "title": null,
            "encode": {
              "symbols": {"update": {"fill": {"scale": "color", "field": "value"}, "stroke": {"value": "transparent"}}}
            }
          }
        }
      },
      "layer": [
        {"mark": {"type": "line", "strokeWidth": 5, "strokeJoin": "round"}},
        {
          "transform": [{"filter": "datum.t >= 53"}],
          "mark": {"type": "line", "strokeWidth": 9, "strokeJoin": "round"}
        }
      ]
    }
  ]
}
